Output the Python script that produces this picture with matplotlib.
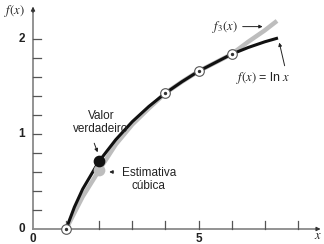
import matplotlib
matplotlib.use('Agg')
from matplotlib import pyplot as plt

# valores
x_true = [1, 1.25, 1.5, 2, 2.5, 3, 3.5, 4, 4.5, 5, 5.5, 6, 6.5, 7, 7.4]
y_true = [0, 0.23, 0.42, 0.715, 0.94, 1.13, 1.29, 1.43, 1.55, 1.66, 1.75, 1.84, 1.91, 1.97, 2.01]

x_cub = [1, 1.5, 2, 2.5, 3, 3.5, 4, 4.5, 5, 5.5, 6, 6.5, 7, 7.37]
y_cub = [0, 0.34, 0.62, 0.89, 1.10, 1.27, 1.43, 1.55, 1.66, 1.75, 1.84, 1.97, 2.09, 2.19]

x_nodes = [1, 4, 5, 6]
y_nodes = [0, 1.43, 1.66, 1.84]

x_est = [2]
y_true_est = [0.715]
y_cub_est = [0.62]

x_ticks = [1, 2, 3, 4, 5, 6, 7, 8]
y_ticks = [0.2, 0.4, 0.6, 0.8, 1.0, 1.2, 1.4, 1.6, 1.8, 2.0]

plt.rcParams['font.family'] = ['Liberation Sans', 'DejaVu Sans']
plt.rcParams['mathtext.fontset'] = 'stix'

fig = plt.figure(figsize=(3.24, 2.44), dpi=100)
ax = fig.add_axes([0, 0, 1, 1])
ax.set_xlim(-0.997, 8.79)
ax.set_ylim(-0.158, 2.41)
ax.axis('off')

axc = '#8a8a8a'
# eixos
ax.plot([0, 8.6], [0, 0], color=axc, lw=1.3)
ax.plot([0, 0], [0, 2.3], color=axc, lw=1.3)
ax.annotate('', xy=(8.77, 0), xytext=(8.5, 0),
            arrowprops=dict(arrowstyle='-|>', color='#333333', lw=0.8, mutation_scale=6))
ax.annotate('', xy=(0, 2.37), xytext=(0, 2.25),
            arrowprops=dict(arrowstyle='-|>', color='#333333', lw=0.8, mutation_scale=6))

# marcas
for t in x_ticks:
    ax.plot([t, t], [0, 0.085], color='#555555', lw=0.9)
for t in y_ticks:
    ax.plot([0, 0.25], [t, t], color='#555555', lw=0.9)

lab = dict(fontsize=8.5, fontweight='bold', color='#222222')
ax.text(-0.25, 0, '0', ha='right', va='center', **lab)
ax.text(-0.25, 1, '1', ha='right', va='center', **lab)
ax.text(-0.25, 2, '2', ha='right', va='center', **lab)
ax.text(0, -0.04, '0', ha='center', va='top', **lab)
ax.text(5, -0.04, '5', ha='center', va='top', **lab)
ax.text(8.6, -0.14, '$x$', ha='center', va='bottom', fontsize=9, color='#222222')
ax.text(-0.55, 2.29, r'$f(x)$', ha='center', va='center', fontsize=9, color='#222222')

# curvas
ax.plot(x_cub, y_cub, color='#bdbdbd', lw=3.2, solid_capstyle='butt', zorder=2)
ax.plot(x_true, y_true, color='#111111', lw=2.2, solid_capstyle='butt', zorder=3)

ax.scatter(x_est, y_cub_est, s=55, color='#bdbdbd', zorder=4)
ax.scatter(x_est, y_true_est, s=55, color='#111111', zorder=5)

ax.scatter(x_nodes, y_nodes, s=48, facecolor='white', edgecolor='#555555', lw=0.8, zorder=6)
ax.scatter(x_nodes, y_nodes, s=2, color='#333333', zorder=7)

txt = dict(fontsize=8.5, color='#222222')
ax.text(2.05, 1.12, 'Valor\nverdadeiro', ha='center', va='center', linespacing=1.05, **txt)
ax.annotate('', xy=(1.98, 0.78), xytext=(1.82, 0.93),
            arrowprops=dict(arrowstyle='-|>', color='#222222', lw=0.7, mutation_scale=5))
ax.text(3.5, 0.52, 'Estimativa\ncúbica', ha='center', va='center', linespacing=1.05, **txt)
ax.annotate('', xy=(2.22, 0.6), xytext=(2.52, 0.6),
            arrowprops=dict(arrowstyle='-|>', color='#222222', lw=0.7, mutation_scale=5))

ax.text(5.8, 2.13, r'$f_3(x)$', ha='center', va='center', fontsize=9, color='#222222')
ax.annotate('', xy=(7.02, 2.13), xytext=(6.25, 2.13),
            arrowprops=dict(arrowstyle='-|>', color='#222222', lw=0.7, mutation_scale=5))
ax.text(6.95, 1.59, r'$f(x)$ = ln $x$', ha='center', va='center', fontsize=9, color='#222222')
ax.annotate('', xy=(7.42, 1.99), xytext=(7.62, 1.69),
            arrowprops=dict(arrowstyle='-|>', color='#222222', lw=0.7, mutation_scale=5))

fig.savefig('out.png', dpi=100)
